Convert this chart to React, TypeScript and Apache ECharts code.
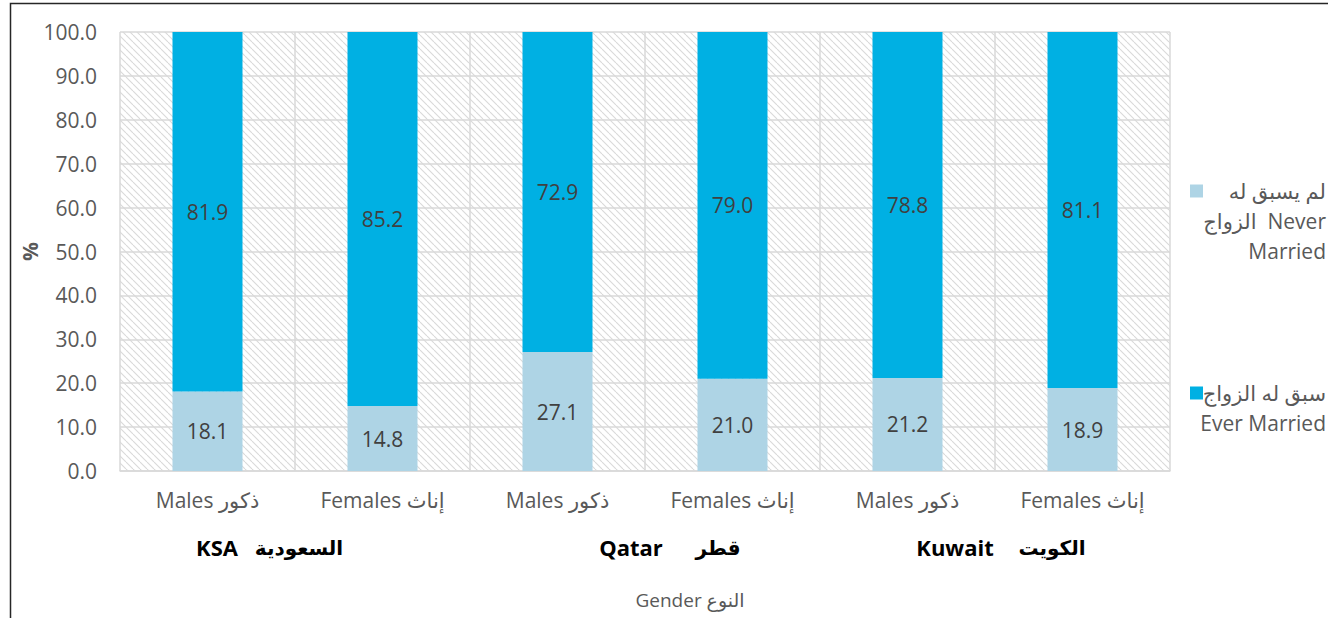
import React, { useEffect, useRef } from 'react';
import * as echarts from 'echarts';

// ---- data ----
const categories = ['Males ذكور', 'Females إناث', 'Males ذكور', 'Females إناث', 'Males ذكور', 'Females إناث'];
const neverMarried = [18.1, 14.8, 27.1, 21.0, 21.2, 18.9];
const everMarried = [81.9, 85.2, 72.9, 79.0, 78.8, 81.1];
const seriesNames = ['لم يسبق له الزواج Never Married', 'سبق له الزواج Ever Married'];
const legendLines = [
  ['لم يسبق له', 'الزواج  Never', 'Married'],
  ['سبق له الزواج', 'Ever Married'],
];
const countryEn = ['KSA', 'Qatar', 'Kuwait'];
const countryAr = ['السعودية', 'قطر', 'الكويت'];
const yMin = 0;
const yMax = 100;
const yStep = 10;
const xAxisTitle = 'Gender النوع';
const yAxisTitle = '%';

const FONT = "'Open Sans', 'DejaVu Sans', sans-serif";

function makeHatch(): HTMLCanvasElement {
  const s = 7;
  const c = document.createElement('canvas');
  c.width = s;
  c.height = s;
  const ctx = c.getContext('2d')!;
  ctx.fillStyle = '#ffffff';
  ctx.fillRect(0, 0, s, s);
  ctx.strokeStyle = '#d9d9d9';
  ctx.lineWidth = 1.1;
  for (const o of [-s, 0, s]) {
    ctx.beginPath();
    ctx.moveTo(o, 0);
    ctx.lineTo(o + s, s);
    ctx.stroke();
  }
  return c;
}

export default function App() {
  const ref = useRef<HTMLDivElement>(null);
  useEffect(() => {
    if (!ref.current) return;
    const chart = echarts.init(ref.current, null, { renderer: 'svg' });
    const hatch = makeHatch();
    const enX = [217, 631, 955];
    const arX = [299, 718, 1052];
    const option: any = {
      animation: false,
      backgroundColor: '#ffffff',
      textStyle: { fontFamily: FONT },
      grid: {
        show: true,
        left: 120,
        right: 158,
        top: 32,
        bottom: 147,
        borderWidth: 0,
        backgroundColor: { image: hatch, repeat: 'repeat', imageWidth: 7, imageHeight: 7 },
      },
      legend: {
        orient: 'vertical',
        left: 1190,
        top: 116,
        padding: 0,
        itemWidth: 13,
        itemHeight: 13,
        itemGap: 82,
        icon: 'rect',
        data: [
          { name: seriesNames[0], textStyle: { padding: [60, 0, 0, 0] } },
          { name: seriesNames[1], textStyle: { padding: [30, 0, 0, 0] } },
        ],
        formatter: (name: string) => {
          const i = seriesNames.indexOf(name);
          return legendLines[i].map((l) => `{r|${l}}`).join('\n');
        },
        textStyle: {
          width: 118,
          overflow: 'none',
          color: '#595959',
          fontFamily: FONT,
          fontSize: 21,
          lineHeight: 30,
          rich: {
            r: { align: 'right', color: '#595959', fontFamily: FONT, fontSize: 21, lineHeight: 30 },
          },
        },
      },
      xAxis: {
        type: 'category',
        data: categories,
        name: xAxisTitle,
        nameLocation: 'middle',
        nameGap: 119,
        nameMoveOverlap: false,
        nameTextStyle: { color: '#595959', fontSize: 19, fontFamily: FONT, padding: [0, 0, 0, 90] },
        axisLine: { show: true, lineStyle: { color: '#d9d9d9', width: 1.5 } },
        axisTick: { show: false },
        axisLabel: { color: '#595959', fontSize: 21, fontFamily: FONT, margin: 18, interval: 0 },
        splitLine: { show: true, interval: 0, lineStyle: { color: '#d9d9d9', width: 1.5 } },
      },
      yAxis: {
        type: 'value',
        min: yMin,
        max: yMax,
        interval: yStep,
        name: yAxisTitle,
        nameLocation: 'middle',
        nameGap: 80,
        nameMoveOverlap: false,
        nameRotate: 90,
        nameTextStyle: { color: '#595959', fontSize: 21, fontWeight: 'bold', fontFamily: FONT },
        axisLine: { show: false },
        axisTick: { show: false },
        axisLabel: {
          color: '#595959',
          fontSize: 21,
          fontFamily: FONT,
          margin: 23,
          formatter: (v: number) => v.toFixed(1),
        },
        splitLine: { show: true, lineStyle: { color: '#d9d9d9', width: 1.5 } },
      },
      series: [
        {
          name: seriesNames[0],
          type: 'bar',
          stack: 'total',
          data: neverMarried,
          barWidth: 70,
          itemStyle: { color: '#aed4e5' },
          label: {
            show: true,
            position: 'inside',
            color: '#404040',
            fontSize: 21,
            fontFamily: FONT,
            formatter: (p: any) => Number(p.value).toFixed(1),
          },
        },
        {
          name: seriesNames[1],
          type: 'bar',
          stack: 'total',
          data: everMarried,
          barWidth: 70,
          itemStyle: { color: '#00b0e3' },
          label: {
            show: true,
            position: 'inside',
            color: '#404040',
            fontSize: 21,
            fontFamily: FONT,
            formatter: (p: any) => Number(p.value).toFixed(1),
          },
        },
      ],
      graphic: [
        ...countryEn.map((t, i) => ({
          type: 'text',
          x: enX[i],
          y: 547,
          style: {
            text: t,
            fill: '#000000',
            font: `bold 22px ${FONT}`,
            align: 'center',
            verticalAlign: 'middle',
          },
        })),
        ...countryAr.map((t, i) => ({
          type: 'text',
          x: arX[i],
          y: 547,
          style: {
            text: t,
            fill: '#000000',
            font: `bold 20px ${FONT}`,
            align: 'center',
            verticalAlign: 'middle',
          },
        })),
        {
          type: 'rect',
          shape: { x: 10.5, y: 3.5, width: 1500, height: 800 },
          style: { fill: 'none', stroke: '#262626', lineWidth: 1.5 },
          silent: true,
          z: 100,
        },
      ],
    };
    chart.setOption(option);
    return () => chart.dispose();
  }, []);
  return (
    <div
      style={{
        position: 'fixed',
        left: 0,
        top: 0,
        width: 1328,
        height: 618,
        overflow: 'hidden',
        background: '#ffffff',
      }}
    >
      <div ref={ref} style={{ width: 1328, height: 618 }} />
    </div>
  );
}
